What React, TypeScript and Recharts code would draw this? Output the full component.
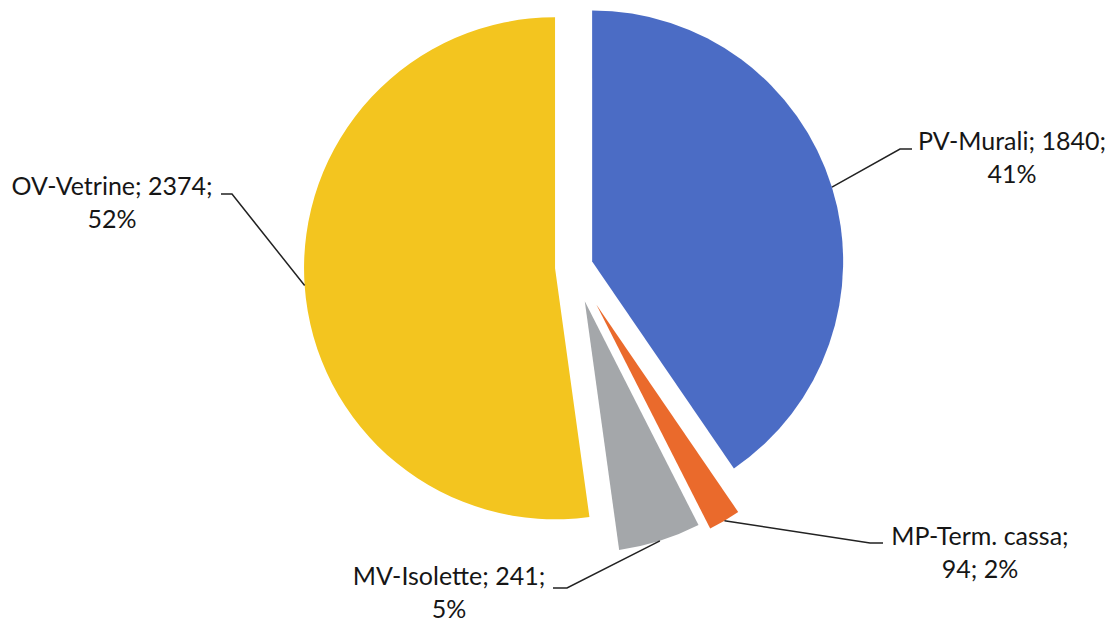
import { PieChart, Pie, Cell, Sector } from "recharts";

// values, clockwise from 12 o'clock
const categories = ["PV-Murali", "MP-Term. cassa", "MV-Isolette", "OV-Vetrine"];
const values = [1840, 94, 241, 2374];
const percentLabels = ["41%", "2%", "5%", "52%"];

const COLORS = ["#4b6cc5", "#ea6a2c", "#a4a7aa", "#f3c51f"];
// how far each slice is pulled out of the centre (px)
const EXPLODE: Record<string, number> = {
  "PV-Murali": 19,
  "MP-Term. cassa": 44,
  "MV-Isolette": 36,
  "OV-Vetrine": 19,
};

// label placement: text centre x, first baseline, leader elbow, end of the short tick,
// and how many of the "; " parts go on the first line
const LABEL_LAYOUT: Record<
  string,
  { x: number; y: number; elbow: [number, number]; tick: [number, number]; firstLine: number }
> = {
  "PV-Murali": { x: 1012, y: 150, elbow: [900, 149], tick: [912, 149], firstLine: 2 },
  "MP-Term. cassa": { x: 980, y: 545, elbow: [870, 543], tick: [883, 543], firstLine: 1 },
  "MV-Isolette": { x: 449, y: 585, elbow: [567, 588], tick: [553, 588], firstLine: 2 },
  "OV-Vetrine": { x: 112, y: 195, elbow: [232, 194], tick: [221, 194], firstLine: 2 },
};

const data = categories.map((name, i) => ({
  name,
  value: values[i],
  pct: percentLabels[i],
}));

const RAD = Math.PI / 180;
const W = 1111;
const H = 622;
const LINE_GAP = 33;

function offset(name: string, midAngle: number) {
  const d = EXPLODE[name] ?? 0;
  return { dx: d * Math.cos(-midAngle * RAD), dy: d * Math.sin(-midAngle * RAD) };
}

function ExplodedSlice(props: any) {
  const { dx, dy } = offset(props.name, props.midAngle);
  return <Sector {...props} cx={props.cx + dx} cy={props.cy + dy} />;
}

function SliceLabel(props: any) {
  const { cx, cy, midAngle, outerRadius, name, value, payload } = props;
  const layout = LABEL_LAYOUT[name];
  if (!layout) return null;
  const { dx, dy } = offset(name, midAngle);
  const sx = cx + dx + outerRadius * Math.cos(-midAngle * RAD);
  const sy = cy + dy + outerRadius * Math.sin(-midAngle * RAD);
  const parts = [`${name};`, `${value};`, payload.pct];
  const line1 = parts.slice(0, layout.firstLine).join(" ");
  const line2 = parts.slice(layout.firstLine).join(" ");
  return (
    <g>
      <polyline
        points={`${sx},${sy} ${layout.elbow[0]},${layout.elbow[1]} ${layout.tick[0]},${layout.tick[1]}`}
        fill="none"
        stroke="#222"
        strokeWidth={1.5}
      />
      <text
        x={layout.x}
        y={layout.y}
        textAnchor="middle"
        fill="#161616"
        fontSize={25}
        fontFamily="Lato, 'Noto Sans', sans-serif"
      >
        <tspan x={layout.x} y={layout.y}>{line1}</tspan>
        <tspan x={layout.x} y={layout.y + LINE_GAP}>{line2}</tspan>
      </text>
    </g>
  );
}

export default function App() {
  return (
    <div style={{ position: "absolute", left: 0, top: 0, width: W, height: H, background: "#fff" }}>
      <PieChart width={W} height={H} margin={{ top: 0, right: 0, bottom: 0, left: 0 }}>
        <Pie
          data={data}
          dataKey="value"
          nameKey="name"
          cx={574}
          cy={267}
          outerRadius={251}
          startAngle={90}
          endAngle={-270}
          stroke="none"
          shape={ExplodedSlice}
          label={SliceLabel}
          labelLine={false}
          isAnimationActive={false}
        >
          {data.map((entry, i) => (
            <Cell key={entry.name} fill={COLORS[i]} />
          ))}
        </Pie>
      </PieChart>
    </div>
  );
}
